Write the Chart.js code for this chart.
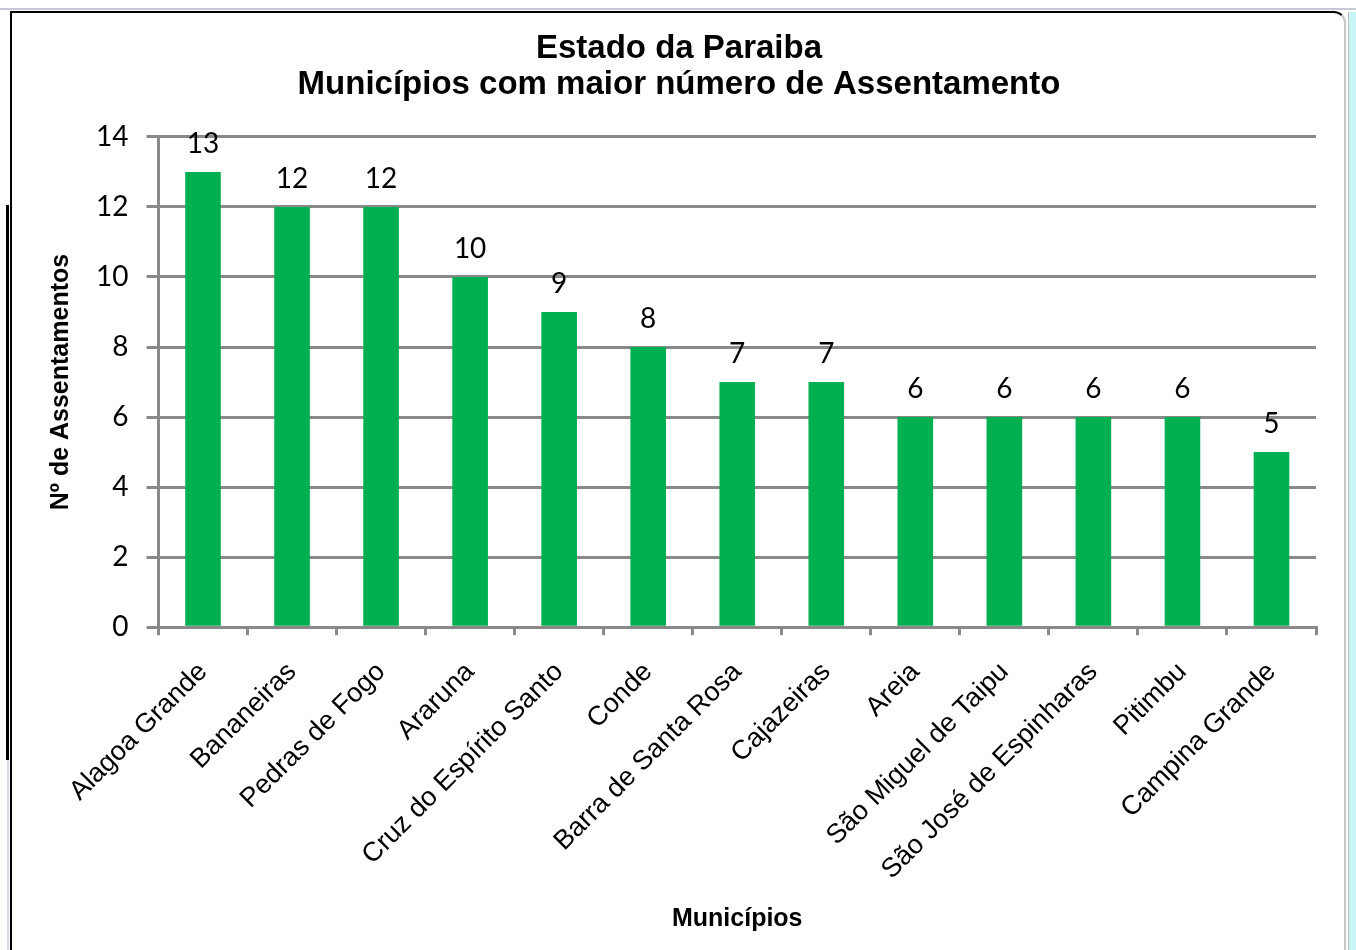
<!DOCTYPE html>
<html>
<head>
<meta charset="utf-8">
<script src="https://cdn.jsdelivr.net/npm/chart.js@4.4.1/dist/chart.umd.min.js"></script>
<style>
  html, body { margin: 0; padding: 0; background: #ffffff; }
  body { width: 1356px; height: 950px; position: relative; overflow: hidden; }
  #topline { position: absolute; left: 0; top: 8px; width: 1356px; height: 2px; background: #c5c9d6; }
  #side { position: absolute; left: 1348px; top: 12px; width: 8px; height: 938px; background: #c8f6f6; border-left: 1px solid #bdbdbd; }
  #frame {
    position: absolute; left: 10px; top: 11px; width: 1336px; height: 945px;
    border-top: 2px solid #000; border-left: 2px solid #000;
    border-right: 2px solid #c8c8c8; border-top-right-radius: 12px;
    background: #fff; box-sizing: border-box;
  }
  #leftbar { position: absolute; left: 6px; top: 205px; width: 3px; height: 555px; background: #000; }
  #leftlow { position: absolute; left: 7px; top: 760px; width: 2px; height: 190px; background: #d3dbe9; }
  #wrap { position: absolute; left: 12px; top: 13px; width: 1332px; height: 937px; }
</style>
</head>
<body>
<div id="topline"></div>
<div id="side"></div>
<div id="frame"></div>
<div id="leftbar"></div>
<div id="leftlow"></div>
<div id="wrap"><canvas id="chart"></canvas></div>
<script>
// dados do gráfico
const municipios = [
  "Alagoa Grande", "Bananeiras", "Pedras de Fogo", "Araruna",
  "Cruz do Espírito Santo", "Conde", "Barra de Santa Rosa", "Cajazeiras",
  "Areia", "São Miguel de Taipu", "São José de Espinharas", "Pitimbu",
  "Campina Grande"
];
const assentamentos = [13, 12, 12, 10, 9, 8, 7, 7, 6, 6, 6, 6, 5];
const yTicks = [0, 2, 4, 6, 8, 10, 12, 14];

const tituloLinhas = ["Estado da Paraiba", "Municípios com maior número de Assentamento"];
const tituloX = "Municípios";
const tituloY = "Nº de Assentamentos";

const VERDE = "#00b050";
const CINZA = "#898989";

// rótulos de valor acima das barras
const valueLabels = {
  id: "valueLabels",
  afterDatasetsDraw(chart) {
    const { ctx } = chart;
    const meta = chart.getDatasetMeta(0);
    ctx.save();
    ctx.font = "28px Lato";
    ctx.fillStyle = "#000";
    ctx.textAlign = "center";
    ctx.textBaseline = "alphabetic";
    meta.data.forEach((bar, i) => {
      ctx.fillText(String(assentamentos[i]), bar.x, bar.y - 19);
    });
    ctx.restore();
  },
};

new Chart(document.getElementById("chart"), {
  type: "bar",
  data: {
    labels: municipios,
    datasets: [
      {
        data: assentamentos,
        backgroundColor: VERDE,
        borderWidth: 0,
        barPercentage: 0.4,
        categoryPercentage: 1.0,
      },
    ],
  },
  options: {
    responsive: true,
    maintainAspectRatio: false,
    animation: false,
    layout: { padding: { top: 18, right: 28, left: 30, bottom: 14 } },
    plugins: {
      legend: { display: false },
      tooltip: { enabled: false },
      title: {
        display: true,
        text: tituloLinhas,
        color: "#000",
        font: { family: "Liberation Sans", size: 33, weight: "bold", lineHeight: 1.09 },
        padding: { top: 0, bottom: 34 },
      },
    },
    scales: {
      x: {
        grid: {
          display: true,
          drawOnChartArea: false,
          drawTicks: true,
          tickLength: 8,
          color: CINZA,
          lineWidth: 3,
          offset: true,
        },
        border: { color: CINZA, width: 3 },
        ticks: {
          color: "#000",
          font: { family: "Liberation Sans", size: 27 },
          maxRotation: 45,
          minRotation: 45,
          padding: 21,
          autoSkip: false,
        },
        title: {
          display: true,
          text: tituloX,
          color: "#000",
          font: { family: "Liberation Sans", size: 25, weight: "bold", lineHeight: 1.0 },
          padding: { top: 0 },
        },
      },
      y: {
        min: 0,
        max: 14,
        afterBuildTicks: (axis) => {
          axis.ticks = yTicks.map((v) => ({ value: v }));
        },
        grid: {
          color: CINZA,
          lineWidth: 3,
          tickLength: 12,
        },
        border: { color: CINZA, width: 3 },
        ticks: {
          color: "#000",
          font: { family: "Lato", size: 28 },
          padding: 18,
        },
        title: {
          display: true,
          text: tituloY,
          color: "#000",
          font: { family: "Liberation Sans", size: 25, weight: "bold" },
          padding: { bottom: 2 },
        },
      },
    },
  },
  plugins: [valueLabels],
});
</script>
</body>
</html>
